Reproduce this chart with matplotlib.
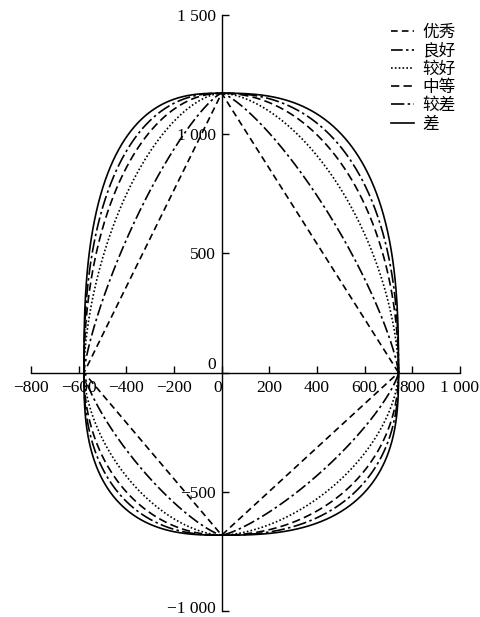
import numpy as np
import matplotlib
matplotlib.use("Agg")
import matplotlib.pyplot as plt
from matplotlib.ticker import FuncFormatter
from matplotlib.transforms import ScaledTranslation

# Quadrant intercepts
x_right = 742
x_left = -578
y_top = 1172
y_bottom = -682

labels = ["优秀", "良好", "较好", "中等", "较差", "差"]
exponents = [1.0, 1.3, 1.7, 2.05, 2.35, 2.7]
styles = [(0, (4, 2.5)), (0, (7, 2, 1.5, 2)), (0, (1, 1.3)),
          (0, (5, 2.5)), (0, (8, 2, 1.5, 2)), "-"]

x_ticks = [-800, -600, -400, -200, 0, 200, 400, 600, 800, 1000]
y_ticks = [-1000, -500, 0, 500, 1000, 1500]

plt.rcParams["font.family"] = ["Liberation Serif", "DejaVu Serif"]

fig = plt.figure(figsize=(4.8, 6.17), dpi=100)
ax = fig.add_axes([31 / 480, 6 / 617, 429 / 480, 596 / 617])

t = np.linspace(0, 2 * np.pi, 2000)
for lab, n, ls in zip(labels, exponents, styles):
    c, s = np.cos(t), np.sin(t)
    a = np.where(c >= 0, x_right, -x_left)
    b = np.where(s >= 0, y_top, -y_bottom)
    x = a * np.sign(c) * np.abs(c) ** (2 / n)
    y = b * np.sign(s) * np.abs(s) ** (2 / n)
    ax.plot(x, y, color="black", lw=1.2, linestyle=ls, label=lab)

ax.set_xlim(-800, 1000)
ax.set_ylim(-1000, 1500)
ax.spines["left"].set_position(("data", 0))
ax.spines["bottom"].set_position(("data", 0))
ax.spines["top"].set_visible(False)
ax.spines["right"].set_visible(False)
for sp in ax.spines.values():
    sp.set_linewidth(1.0)


def fmt(v, pos):
    v = int(round(v))
    s = f"{abs(v):,}".replace(",", " ")
    return ("\u2212" + s) if v < 0 else s


ax.set_xticks(x_ticks)
ax.set_yticks(y_ticks)
ax.xaxis.set_major_formatter(FuncFormatter(fmt))
ax.yaxis.set_major_formatter(FuncFormatter(fmt))
ax.tick_params(axis="both", direction="in", length=5, width=1.0, labelsize=12.5)
ax.tick_params(axis="x", pad=5)
ax.tick_params(axis="y", pad=4)

fig.canvas.draw()
for lbl in ax.get_xticklabels():
    if lbl.get_text() == "0":
        lbl.set_ha("right")
for lbl in ax.get_yticklabels():
    if lbl.get_text() == "0":
        lbl.set_va("bottom")
    if lbl.get_text() == "\u22121 000":
        lbl.set_va("bottom")
        lbl.set_transform(lbl.get_transform()
                          + ScaledTranslation(0, -4 / 72, fig.dpi_scale_trans))

leg = ax.legend(loc="upper right", bbox_to_anchor=(456 / 480, 1 - 24 / 617),
                bbox_transform=fig.transFigure, frameon=False,
                prop={"family": ["Noto Sans CJK SC", "DejaVu Sans"], "size": 12},
                handlelength=1.35, handletextpad=0.55, labelspacing=0.08,
                borderaxespad=0, borderpad=0)

fig.savefig("out.png", dpi=100, facecolor="white")
